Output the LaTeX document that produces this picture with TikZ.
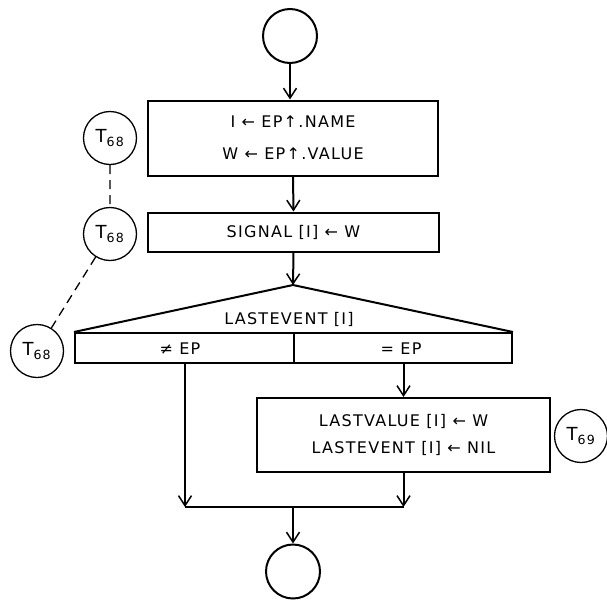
\documentclass[tikz,border=0pt]{standalone}
\usepackage{fontspec}
\newfontfamily\hand[LetterSpace=8]{DejaVu Sans}
\usetikzlibrary{arrows.meta}

\begin{document}
\begin{tikzpicture}[x=1pt,y=-1pt,line width=2pt,
          every node/.style={font=\hand\fontsize{16}{30}\selectfont},
          term/.style={circle,draw,minimum size=54pt,inner sep=0pt},
          tag/.style={circle,draw,line width=1.3pt,minimum size=53pt,inner sep=0pt,
            font=\hand\fontsize{18}{20}\selectfont},
          box/.style={rectangle,draw,align=center,inner sep=0pt},
          arr/.style={-{Straight Barb[length=10pt,width=13pt,line width=1.5pt]}}]
          \useasboundingbox (0,0) rectangle (607,600);
          \node[term] (C0) at (290,36) {};
          \node[box,minimum width=290pt,minimum height=75pt] (B1) at (293,138)
            {I ← EP↑.NAME\\[2pt]W ← EP↑.VALUE};
          \node[box,minimum width=291pt,minimum height=39pt] (B2) at (293.5,232)
            {SIGNAL [I] ← W};
          \coordinate (Apex) at (293,285);
          \node[box,minimum width=437pt,minimum height=30pt] (D) at (293.5,348) {};
          \node (DL) at (289,319) {LASTEVENT [I]};
          \node (NE) at (180,349) {≠ EP};
          \node (EQ) at (401,349) {= EP};
          \node[box,minimum width=293pt,minimum height=74pt] (B3) at (403.5,435)
            {LASTVALUE [I] ← W\\[-3pt]LASTEVENT [I] ← NIL};
          \coordinate (L) at (185,507);
          \coordinate (J) at (293,507);
          \node[term] (C5) at (293,571.5) {};
          \node[tag] (T1) at (110,138) {T\textsubscript{68}};
          \node[tag] (T2) at (110,234) {T\textsubscript{68}};
          \node[tag] (T3) at (37,351) {T\textsubscript{68}};
          \node[tag] (T4) at (581,436) {T\textsubscript{69}};
          \draw[arr] (C0) -- (C0 |- B1.north);
          \draw[arr] (B1.south) -- (B2.north);
          \draw[arr] (B2.south) -- (Apex);
          \draw (D.north west) -- (Apex) -- (D.north east);
          \draw (D.north) -- (D.south);
          \draw[arr] (L |- D.south) -- (L);
          \draw[arr] (B3.north |- D.south) -- (B3.north);
          \draw[arr] (B3.south) -- (B3.south |- L);
          \draw (L) -- (B3.south |- L);
          \draw[arr] (J) -- (C5.north);
          \draw[dashed,line width=1.3pt,dash pattern=on 9pt off 6pt] (T1) -- (T2) (T2) -- (T3);
        \end{tikzpicture}
\end{document}
